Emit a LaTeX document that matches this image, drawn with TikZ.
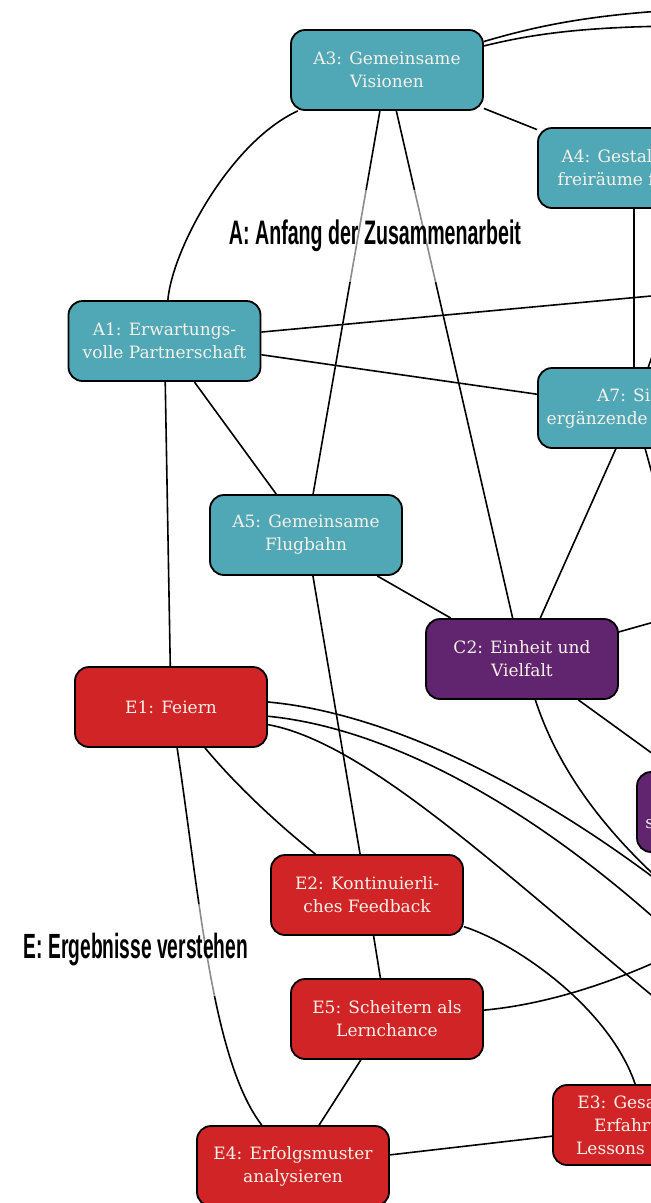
\documentclass[tikz,border=0pt]{standalone}
\usepackage{fontspec}
\setmainfont{DejaVu Serif}
\newfontfamily\headfont{Liberation Sans}
\usepackage{graphicx}

\definecolor{tealbox}{HTML}{50A7B5}
\definecolor{plumbox}{HTML}{61246E}
\definecolor{redbox}{HTML}{D12427}
\definecolor{boxtext}{HTML}{F6F2EA}

\pgfdeclarelayer{links}
\pgfdeclarelayer{titles}
\pgfsetlayers{links,titles,main}

\begin{document}
\begin{tikzpicture}[x=1pt,y=-1pt,
  box/.style={draw=black, line width=1.8pt, rounded corners=14pt,
    minimum width=192pt, minimum height=80pt, inner sep=0pt,
    align=center, text=boxtext, font=\fontsize{17}{23}\selectfont},
  abox/.style={box, fill=tealbox},
  cbox/.style={box, fill=plumbox},
  ebox/.style={box, fill=redbox},
  link/.style={draw=black, line width=1.6pt},
  title/.style={fill=white, fill opacity=0.55, text opacity=1,
    inner xsep=8pt, inner ysep=30pt, text=black}
]
\useasboundingbox (0,0) rectangle (651,1203);

% group A
\node[abox] (A3) at (387,70)  {A3: Gemeinsame\\Visionen};
\node[abox] (A4) at (634,168) {A4: Gestaltungs-\\freiräume für alle};
\node[abox] (A1) at (164.5,341) {A1: Erwartungs-\\volle Partnerschaft};
\node[abox] (A7) at (634,408) {A7: Sich\\ergänzende Stärken};
\node[abox] (A5) at (306,535) {A5: Gemeinsame\\Flugbahn};

% group C
\node[cbox] (C2) at (522,659) {C2: Einheit und\\Vielfalt};
\node[cbox] (C3) at (733,812) {C3: Geteilte\\strategische Leitziel};

% group E
\node[ebox] (E1) at (171,707)  {E1: Feiern};
\node[ebox] (E2) at (367,895)  {E2: Kontinuierli-\\ches Feedback};
\node[ebox] (E5) at (387,1019) {E5: Scheitern als\\Lernchance};
\node[ebox] (E4) at (293,1166) {E4: Erfolgsmuster\\analysieren};
\node[ebox] (E3) at (649,1125) {E3: Gesammelte\\Erfahrungen\\Lessons Learned};

% far ends of links leaving the sheet to the right
\coordinate (xA3a) at (720,8);
\coordinate (xA3b) at (720,26);
\coordinate (xA1)  at (900,273);
\coordinate (xA7a) at (690,248);
\coordinate (xA7b) at (690,612);
\coordinate (xC2)  at (800,581);
\coordinate (xS1)  at (720,930);
\coordinate (xS2)  at (720,980);
\coordinate (xS3)  at (720,1050);

% group titles
\begin{pgfonlayer}{titles}
\node[title] (tA) at (375,236) {\resizebox{292pt}{\height}{\headfont\bfseries\fontsize{34}{34}\selectfont A: Anfang der Zusammenarbeit}};
\node[title] (tE) at (136,950) {\resizebox{224pt}{\height}{\headfont\bfseries\fontsize{35}{35}\selectfont E: Ergebnisse verstehen}};
\end{pgfonlayer}

% paper and links
\begin{pgfonlayer}{links}
\fill[white] (0,0) rectangle (651,1203);
\draw[link] (A3) .. controls (540,25) and (600,12) .. (xA3a);
\draw[link] (A3) .. controls (540,32) and (600,25) .. (xA3b);
\draw[link] (A3) -- (A4);
\draw[link] (A3) .. controls (230,142) and (172,250) .. (A1);
\draw[link] (A3) -- (A5);
\draw[link] (A3) -- (C2);
\draw[link] (A4) -- (A7);
\draw[link] (A1) -- (xA1);
\draw[link] (A1) -- (A7);
\draw[link] (A1) -- (A5);
\draw[link] (A1) -- (E1);
\draw[link] (A7) -- (xA7a);
\draw[link] (A7) -- (xA7b);
\draw[link] (A7) -- (C2);
\draw[link] (A5) -- (C2);
\draw[link] (A5) -- (E2);
\draw[link] (C2) -- (xC2);
\draw[link] (C2) -- (C3);
\draw[link] (C2) .. controls (555,760) and (600,840) .. (xS1);
\draw[link] ([yshift=5pt]E1.east) .. controls (380,712) and (540,780) .. (xS1);
\draw[link] (E1) .. controls (380,727) and (540,800) .. (xS2);
\draw[link] (E1) .. controls (380,745) and (540,910) .. (xS3);
\draw[link] (E1) .. controls (240,790) and (285,830) .. (E2);
\draw[link] (E1) .. controls (200,900) and (212,1060) .. (E4);
\draw[link] (E2) -- (E5);
\draw[link] (E2) .. controls (520,945) and (610,1010) .. (E3);
\draw[link] (E5) -- (E4);
\draw[link] (E5) .. controls (540,1005) and (620,985) .. (xS1);
\draw[link] (E4) -- (E3);
\end{pgfonlayer}
\end{tikzpicture}
\end{document}
